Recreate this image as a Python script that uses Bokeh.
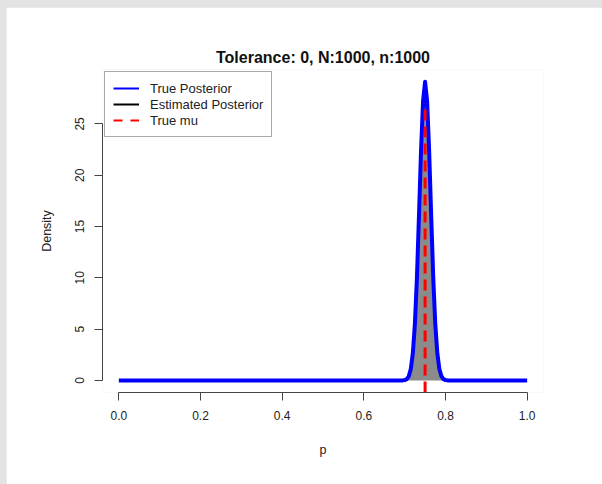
from bokeh.plotting import figure
from bokeh.models import Range1d, FixedTicker, Legend, LegendItem
from bokeh.layouts import column
from bokeh.embed import file_html
from bokeh.resources import INLINE

# ---- data ----
title_text = "Tolerance: 0, N:1000, n:1000"
x_ticks = [0.0, 0.2, 0.4, 0.6, 0.8, 1.0]
y_ticks = [0, 5, 10, 15, 20, 25]

# true posterior (blue) sampled along p
true_p = [0.0, 0.5, 0.69, 0.695, 0.70, 0.705, 0.71, 0.715, 0.72, 0.725, 0.73, 0.735,
          0.74, 0.745, 0.75, 0.755, 0.76, 0.765, 0.77, 0.775, 0.78, 0.785, 0.79,
          0.795, 0.80, 0.805, 0.81, 0.9, 1.0]
true_d = [0.0, 0.0, 0.0, 0.01, 0.04, 0.13, 0.41, 1.12, 2.65, 5.5, 10.0, 16.0,
          22.3, 27.2, 29.1, 27.2, 22.3, 16.0, 10.0, 5.5, 2.65, 1.12, 0.41,
          0.13, 0.04, 0.01, 0.0, 0.0, 0.0]

# estimated posterior (black outline, gray fill)
est_p = [0.70, 0.705, 0.71, 0.715, 0.72, 0.725, 0.73, 0.735, 0.74, 0.745, 0.75,
         0.755, 0.76, 0.765, 0.77, 0.775, 0.78, 0.785, 0.79, 0.795, 0.80]
est_d = [0.0, 0.08, 0.3, 1.0, 2.6, 5.6, 10.2, 15.8, 21.6, 26.0, 27.6,
         26.0, 21.6, 15.8, 10.2, 5.6, 2.6, 1.0, 0.3, 0.08, 0.0]

true_mu = 0.75
mu_line_top = 27.0

x_lo, x_hi = -0.04, 1.04
y_lo, y_hi = -1.17, 30.3

FONT = "Liberation Sans"
NAN = float("nan")

p = figure(width=596, height=477, output_backend="svg", toolbar_location=None,
           x_range=Range1d(x_lo, x_hi), y_range=Range1d(y_lo, y_hi),
           min_border_left=96, min_border_right=59, min_border_top=62,
           min_border_bottom=92, title=title_text)
p.margin = (7, 0, 0, 6)
p.background_fill_color = "white"
p.border_fill_color = "white"
p.outline_line_color = None
p.grid.visible = False

p.title.align = "center"
p.title.text_font = FONT
p.title.text_font_size = "16px"
p.title.text_font_style = "bold"
p.title.text_color = "#111111"
p.title.standoff = 8

for ax, ticks in ((p.xaxis[0], x_ticks), (p.yaxis[0], y_ticks)):
    ax.ticker = FixedTicker(ticks=ticks)
    ax.bounds = (ticks[0], ticks[-1])
    ax.axis_line_color = "#444444"
    ax.major_tick_line_color = "#444444"
    ax.minor_tick_line_color = None
    ax.major_tick_out = 8
    ax.major_tick_in = 0
    ax.major_label_text_font = FONT
    ax.major_label_text_font_size = "12px"
    ax.major_label_text_color = "#222222"
    ax.axis_label_text_font = FONT
    ax.axis_label_text_font_size = "12.5px"
    ax.axis_label_text_font_style = "normal"
    ax.axis_label_text_color = "#222222"

p.xaxis[0].major_label_overrides = {t: f"{t:.1f}" for t in x_ticks}
p.xaxis[0].major_label_standoff = 10
p.xaxis[0].axis_label = "p"
p.xaxis[0].axis_label_standoff = 20
p.yaxis[0].axis_label = "Density"
p.yaxis[0].major_label_orientation = "vertical"
p.yaxis[0].major_label_standoff = 10
p.yaxis[0].axis_label_standoff = 19

# estimated posterior fill + outline
p.varea(x=est_p, y1=[0] * len(est_p), y2=est_d, fill_color="#8b8b8b")
p.line(est_p, est_d, line_color="black", line_width=1.5)
# true posterior
p.line(true_p, true_d, line_color="#0000ff", line_width=4, line_join="round")
# true mu
p.segment(x0=[true_mu], y0=[y_lo], x1=[true_mu], y1=[mu_line_top],
          line_color="#ff0000", line_width=3, line_dash="11 6")

# legend proxies
r_true = p.line([NAN, NAN], [NAN, NAN], line_color="#0000ff", line_width=2)
r_est = p.line([NAN, NAN], [NAN, NAN], line_color="black", line_width=2)
r_mu = p.line([NAN, NAN], [NAN, NAN], line_color="#ff0000", line_width=2, line_dash="9 8")
legend = Legend(items=[LegendItem(label="True Posterior", renderers=[r_true]),
                       LegendItem(label="Estimated Posterior", renderers=[r_est]),
                       LegendItem(label="True mu", renderers=[r_mu])],
                location="top_left", margin=2, padding=8, spacing=0,
                glyph_width=26, glyph_height=16, label_height=16,
                label_standoff=11, label_text_font=FONT,
                label_text_font_size="13px", label_text_color="#222222",
                border_line_color="#555555", border_line_width=1,
                background_fill_color="white", background_fill_alpha=1.0)
p.add_layout(legend)

layout = column(p, styles={"background-color": "#e3e3e3"})
open("out.html", "w").write(file_html(layout, INLINE))
